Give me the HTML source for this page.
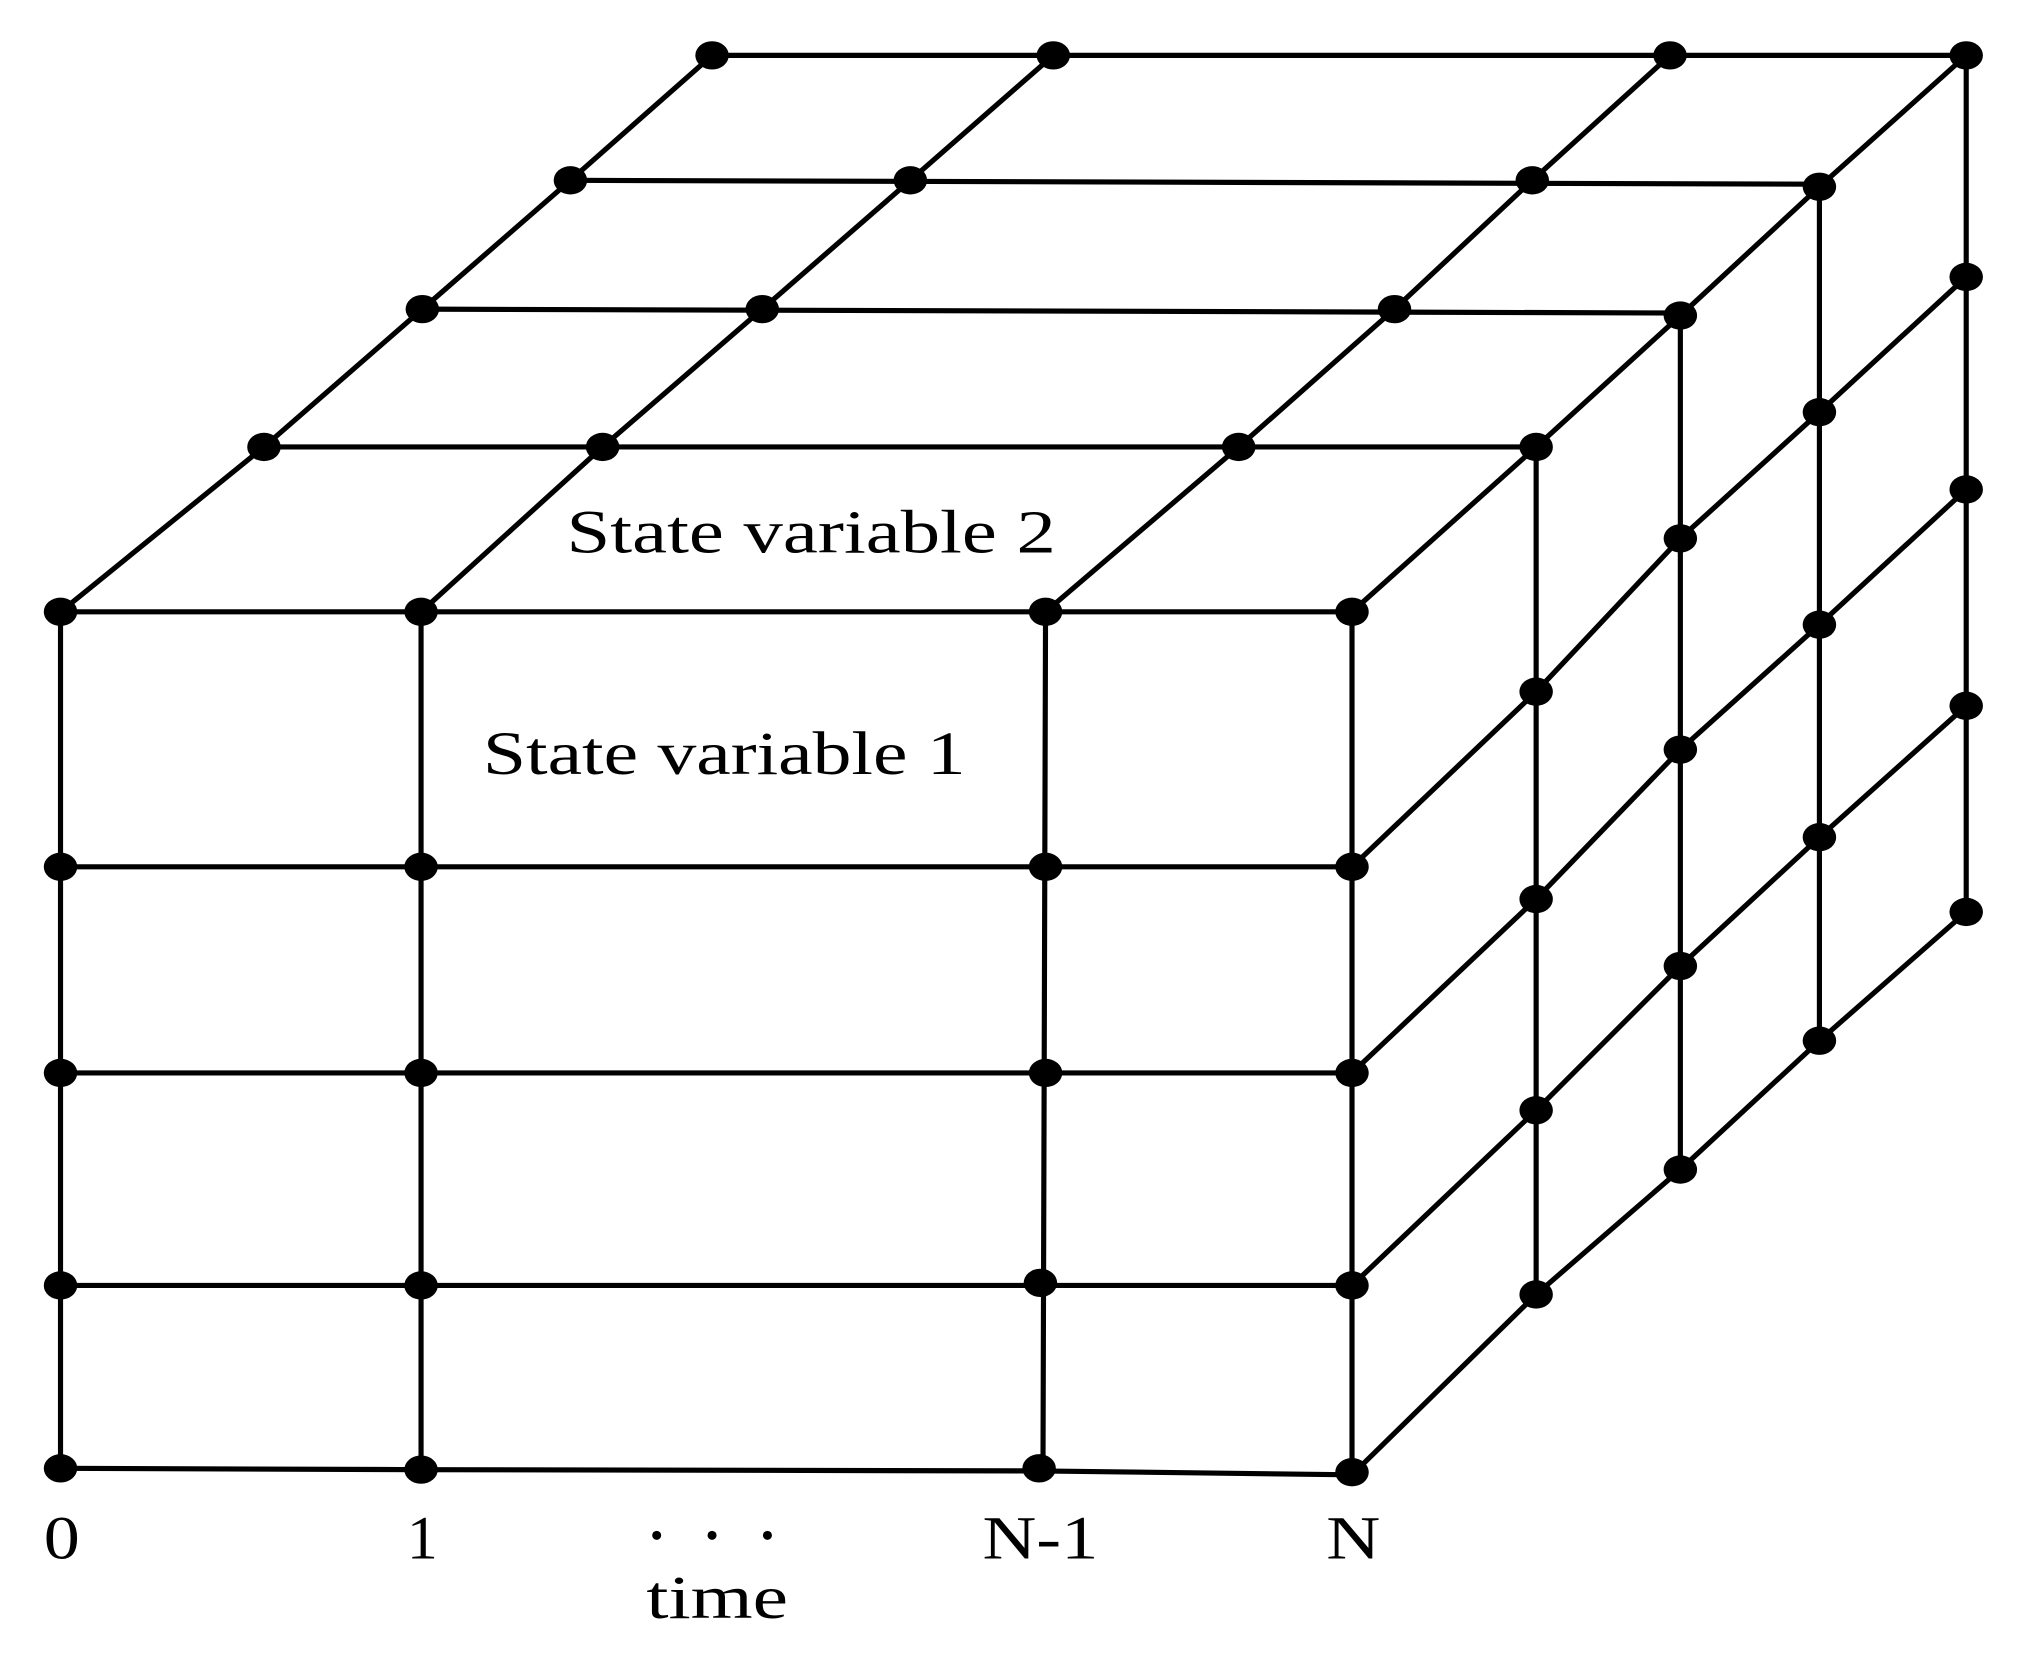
<!DOCTYPE html>
<html><head><meta charset="utf-8"><style>
html,body{margin:0;padding:0;background:#fff;}
svg{display:block;}
text{font-family:"Liberation Serif",serif;fill:#000;}
</style></head><body>
<svg width="2019" height="1668" viewBox="0 0 1568 1295" preserveAspectRatio="none" xmlns="http://www.w3.org/2000/svg">
<g stroke="#000" stroke-width="4" fill="none" stroke-linecap="round">
<polyline points="47,475 1050,475"/>
<polyline points="47,673 1050,673"/>
<polyline points="47,833 1050,833"/>
<polyline points="47,998 1050,998"/>
<polyline points="47,1140 327,1141 807,1142 1050,1145"/>
<line x1="47" y1="475" x2="47" y2="1140"/>
<line x1="327" y1="475" x2="327" y2="1141"/>
<line x1="812" y1="475" x2="810" y2="1142"/>
<line x1="1050" y1="475" x2="1050" y2="1145"/>
<line x1="205" y1="347" x2="1193" y2="347"/>
<line x1="328" y1="240" x2="1305" y2="243"/>
<line x1="443" y1="140" x2="1413" y2="143"/>
<line x1="553" y1="43" x2="1527" y2="43"/>
<polyline points="47,475 205,347 328,240 443,140 553,43"/>
<polyline points="327,475 468,347 592,240 707,140 818,43"/>
<polyline points="812,475 962,347 1083,240 1190,140 1297,43"/>
<line x1="1193" y1="347" x2="1193" y2="1005"/>
<line x1="1305" y1="245" x2="1305" y2="908"/>
<line x1="1413" y1="145" x2="1413" y2="808"/>
<line x1="1527" y1="43" x2="1527" y2="708"/>
<polyline points="1050,475 1193,347 1305,245 1413,145 1527,43"/>
<polyline points="1050,673 1193,537 1305,418 1413,320 1527,215"/>
<polyline points="1050,833 1193,698 1305,582 1413,485 1527,380"/>
<polyline points="1050,998 1193,862 1305,750 1413,650 1527,548"/>
<polyline points="1050,1145 1193,1005 1305,908 1413,808 1527,708"/>
</g>
<g fill="#000">
<ellipse cx="47" cy="475" rx="13" ry="11"/><ellipse cx="327" cy="475" rx="13" ry="11"/><ellipse cx="812" cy="475" rx="13" ry="11"/><ellipse cx="1050" cy="475" rx="13" ry="11"/>
<ellipse cx="47" cy="673" rx="13" ry="11"/><ellipse cx="327" cy="673" rx="13" ry="11"/><ellipse cx="812" cy="673" rx="13" ry="11"/><ellipse cx="1050" cy="673" rx="13" ry="11"/>
<ellipse cx="47" cy="833" rx="13" ry="11"/><ellipse cx="327" cy="833" rx="13" ry="11"/><ellipse cx="812" cy="833" rx="13" ry="11"/><ellipse cx="1050" cy="833" rx="13" ry="11"/>
<ellipse cx="47" cy="998" rx="13" ry="11"/><ellipse cx="327" cy="998" rx="13" ry="11"/><ellipse cx="808" cy="996" rx="13" ry="11"/><ellipse cx="1050" cy="998" rx="13" ry="11"/>
<ellipse cx="47" cy="1140" rx="13" ry="11"/><ellipse cx="327" cy="1141" rx="13" ry="11"/><ellipse cx="807" cy="1140" rx="13" ry="11"/><ellipse cx="1050" cy="1143" rx="13" ry="11"/>
<ellipse cx="205" cy="347" rx="13" ry="11"/><ellipse cx="468" cy="347" rx="13" ry="11"/><ellipse cx="962" cy="347" rx="13" ry="11"/><ellipse cx="1193" cy="347" rx="13" ry="11"/>
<ellipse cx="328" cy="240" rx="13" ry="11"/><ellipse cx="592" cy="240" rx="13" ry="11"/><ellipse cx="1083" cy="240" rx="13" ry="11"/><ellipse cx="1305" cy="245" rx="13" ry="11"/>
<ellipse cx="443" cy="140" rx="13" ry="11"/><ellipse cx="707" cy="140" rx="13" ry="11"/><ellipse cx="1190" cy="140" rx="13" ry="11"/><ellipse cx="1413" cy="145" rx="13" ry="11"/>
<ellipse cx="553" cy="43" rx="13" ry="11"/><ellipse cx="818" cy="43" rx="13" ry="11"/><ellipse cx="1297" cy="43" rx="13" ry="11"/><ellipse cx="1527" cy="43" rx="13" ry="11"/>
<ellipse cx="1193" cy="537" rx="13" ry="11"/><ellipse cx="1193" cy="698" rx="13" ry="11"/><ellipse cx="1193" cy="862" rx="13" ry="11"/><ellipse cx="1193" cy="1005" rx="13" ry="11"/>
<ellipse cx="1305" cy="418" rx="13" ry="11"/><ellipse cx="1305" cy="582" rx="13" ry="11"/><ellipse cx="1305" cy="750" rx="13" ry="11"/><ellipse cx="1305" cy="908" rx="13" ry="11"/>
<ellipse cx="1413" cy="320" rx="13" ry="11"/><ellipse cx="1413" cy="485" rx="13" ry="11"/><ellipse cx="1413" cy="650" rx="13" ry="11"/><ellipse cx="1413" cy="808" rx="13" ry="11"/>
<ellipse cx="1527" cy="215" rx="13" ry="11"/><ellipse cx="1527" cy="380" rx="13" ry="11"/><ellipse cx="1527" cy="548" rx="13" ry="11"/><ellipse cx="1527" cy="708" rx="13" ry="11"/>
<circle cx="510" cy="1192" r="3.5"/><circle cx="553" cy="1192" r="3.5"/><circle cx="596" cy="1192" r="3.5"/>
</g>
<text x="440" y="429" font-size="48" textLength="380" lengthAdjust="spacingAndGlyphs">State variable 2</text>
<text x="375" y="601" font-size="48" textLength="375" lengthAdjust="spacingAndGlyphs">State variable 1</text>
<text x="34" y="1210" font-size="48" textLength="28" lengthAdjust="spacingAndGlyphs">0</text>
<text x="316" y="1210" font-size="48" textLength="24" lengthAdjust="spacingAndGlyphs">1</text>
<text x="763" y="1210" font-size="48" textLength="90" lengthAdjust="spacingAndGlyphs">N-1</text>
<text x="1030" y="1210" font-size="48" textLength="42" lengthAdjust="spacingAndGlyphs">N</text>
<text x="502" y="1256" font-size="48" textLength="110" lengthAdjust="spacingAndGlyphs">time</text>
</svg>
</body></html>
